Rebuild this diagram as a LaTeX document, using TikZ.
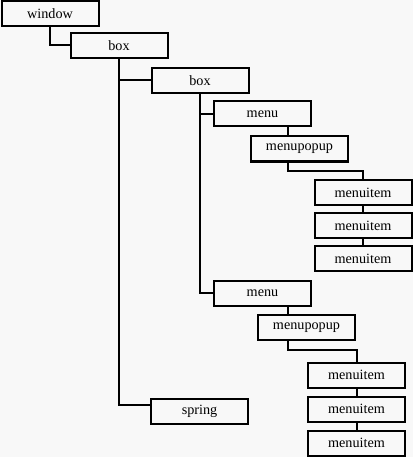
\documentclass[tikz,border=0pt]{standalone}
\usepackage{fontspec}
\setmainfont{Liberation Serif}
\definecolor{bg}{HTML}{F8F8F8}
\begin{document}
\begin{tikzpicture}[x=1pt,y=-1pt,
  item/.style={draw=black,line width=2pt,fill=bg,minimum width=97pt,minimum height=25pt,
    inner sep=0pt,font=\fontsize{14.2}{16}\selectfont},
  wire/.style={draw=black,line width=2pt}]
\fill[bg] (0,0) rectangle (413,457);
\useasboundingbox (0,0) rectangle (413,457);
\node[item] (window) at (50,14) {window};
\node[item] (box1) at (119,46) {box};
\node[item] (box2) at (200,80.5) {box};
\node[item] (menu1) at (262.5,114) {menu};
\node[item] (mp1) at (299.5,149) {menupopup};
\node[item] (mi1a) at (363,192.5) {menuitem};
\node[item] (mi1b) at (363,225.5) {menuitem};
\node[item] (mi1c) at (363,258.5) {menuitem};
\node[item] (menu2) at (262.5,293) {menu};
\node[item] (mp2) at (306.5,327.5) {menupopup};
\node[item] (mi2a) at (356.5,375) {menuitem};
\node[item] (mi2b) at (356.5,409) {menuitem};
\node[item] (mi2c) at (356.5,443) {menuitem};
\node[item] (spring) at (199.5,411.5) {spring};
\draw[wire] (window.south) |- ([yshift=1pt]box1.west);
\draw[wire] (box1.south) |- (box2.west);
\draw[wire] (box1.south) |- ([yshift=6.5pt]spring.west);
\draw[wire] (box2.south) |- (menu1.west);
\draw[wire] (box2.south) |- (menu2.west);
\draw[wire] ([xshift=25.5pt]menu1.south) -- ([xshift=-11.5pt]mp1.north);
\draw[wire] ([xshift=-11.5pt]mp1.south) -- ++(0,8) -| (mi1a.north);
\draw[wire] (mi1a.south) -- (mi1b.north);
\draw[wire] (mi1b.south) -- (mi1c.north);
\draw[wire] ([xshift=25.5pt]menu2.south) -- ([xshift=-18.5pt]mp2.north);
\draw[wire] ([xshift=-18.5pt]mp2.south) -- ++(0,9) -| (mi2a.north);
\draw[wire] (mi2a.south) -- (mi2b.north);
\draw[wire] (mi2b.south) -- (mi2c.north);
\end{tikzpicture}
\end{document}
